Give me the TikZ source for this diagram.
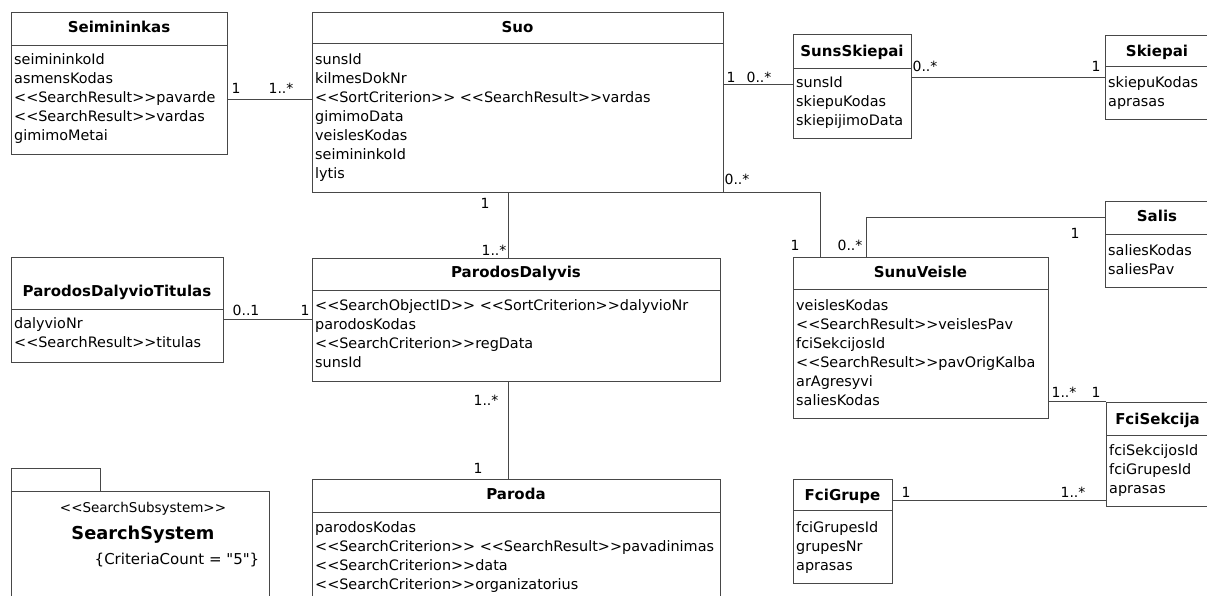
\documentclass[tikz,border=0pt]{standalone}
\usepackage{fontspec}
\setmainfont{DejaVu Sans}[Ligatures=TeXOff]
\usetikzlibrary{fit}

% stereotype brackets, kept as two separate < and > characters
\newcommand\ster[1]{<\kern0pt<#1>\kern0pt>}

\tikzset{
  ink/.style={draw=black!72, line width=1pt},
  classbox/.style={ink, inner sep=0pt, outer sep=0pt},
  classname/.style={anchor=base, inner sep=0pt, font=\fontsize{15}{18}\selectfont\bfseries},
  attr/.style={anchor=base west, inner sep=0pt, font=\fontsize{14.4}{19}\selectfont},
  mult/.style={anchor=base, inner sep=0pt, font=\fontsize{14}{17}\selectfont},
  assoc/.style={ink},
}

% class box: name, left, top, right, bottom, divider, title, title baseline
\newcommand\umlclass[8]{%
  \coordinate (#1-nw) at (#2,-#3);
  \coordinate (#1-se) at (#4,-#5);
  \node[classbox, fit=(#1-nw)(#1-se)] (#1) {};
  \draw[ink] (#1.west |- 0,-#6) -- (#1.east |- 0,-#6);
  \node[classname] (#1-name) at ({(#2+#4)/2},-#8) {#7};
}
% attribute rows: class name, left, first baseline, list
\newcommand\attrs[4]{%
  \foreach \t [count=\i from 0] in {#4}
    \node[attr] (#1-a\i) at (#2+3,{-#3-19*\i}) {\t};
}

\begin{document}
\begin{tikzpicture}[x=1pt,y=1pt]
\useasboundingbox (0,0) rectangle (1207,-596);
\clip (0,0) rectangle (1207,-596);
\fill[white] (0,0) rectangle (1207,-596);

% ---- classes ----
\umlclass{seim}{11}{13}{227}{155}{46}{Seimininkas}{33}
\attrs{seim}{11}{65}{seimininkoId, asmensKodas, \ster{SearchResult}pavarde, \ster{SearchResult}vardas, gimimoMetai}

\umlclass{suo}{312}{13}{723}{193}{44}{Suo}{33}
\attrs{suo}{312}{65}{sunsId, kilmesDokNr, \ster{SortCriterion} \ster{SearchResult}vardas, gimimoData, veislesKodas, seimininkoId, lytis}

\umlclass{sskiep}{793}{35}{911}{139}{69}{SunsSkiepai}{57}
\attrs{sskiep}{793}{88}{sunsId, skiepuKodas, skiepijimoData}

\umlclass{skiep}{1105}{36}{1209}{120}{67}{Skiepai}{57}
\attrs{skiep}{1105}{88}{skiepuKodas, aprasas}

\umlclass{pdt}{11}{257}{223}{362}{309}{ParodosDalyvioTitulas}{296}
\attrs{pdt}{11}{328}{dalyvioNr, \ster{SearchResult}titulas}

\umlclass{pd}{312}{258}{720}{381}{290}{ParodosDalyvis}{277}
\attrs{pd}{312}{310}{\ster{SearchObjectID} \ster{SortCriterion}dalyvioNr, parodosKodas, \ster{SearchCriterion}regData, sunsId}

\umlclass{veisle}{793}{257}{1048}{418}{289}{SunuVeisle}{277}
\attrs{veisle}{793}{310}{veislesKodas, \ster{SearchResult}veislesPav, fciSekcijosId, \ster{SearchResult}pavOrigKalba, arAgresyvi, saliesKodas}

\umlclass{salis}{1105}{202}{1209}{287}{234}{Salis}{222}
\attrs{salis}{1105}{255}{saliesKodas, saliesPav}

\umlclass{fcis}{1106}{402}{1209}{506}{435}{FciSekcija}{424}
\attrs{fcis}{1106}{455}{fciSekcijosId, fciGrupesId, aprasas}

\umlclass{fcig}{793}{479}{892}{583}{510}{FciGrupe}{500}
\attrs{fcig}{793}{532}{fciGrupesId, grupesNr, aprasas}

\umlclass{paroda}{312}{479}{720}{602}{512}{Paroda}{499}
\attrs{paroda}{312}{532}{parodosKodas, \ster{SearchCriterion} \ster{SearchResult}pavadinimas, \ster{SearchCriterion}data, \ster{SearchCriterion}organizatorius}

% ---- subsystem package ----
\node[classbox, fit={(11,-468) (100,-491)}] (pkgtab) {};
\node[classbox, fit={(11,-491) (269,-602)}] (pkg) {};
\node[anchor=base, inner sep=0pt, font=\fontsize{13.5}{16}\selectfont] (pkg-st) at (143,-512) {\ster{SearchSubsystem}};
\node[anchor=base, inner sep=0pt, font=\fontsize{17.8}{20}\selectfont\bfseries] (pkg-name) at (143,-539) {SearchSystem};
\node[anchor=base, inner sep=0pt, font=\fontsize{15}{18}\selectfont] (pkg-tag) at (177,-564) {\{CriteriaCount = "5"\}};

% ---- associations ----
\draw[assoc] (seim.east |- 0,-100) -- (suo.west |- 0,-100);
\node[mult] (m1a) at (236,-94) {1};
\node[mult] (m1b) at (281,-94) {1..*};

\draw[assoc] (suo.east |- 0,-85) -- (sskiep.west |- 0,-85);
\node[mult] (m2a) at (731,-83) {1};
\node[mult] (m2b) at (759,-83) {0..*};

\draw[assoc] (sskiep.east |- 0,-78) -- (skiep.west |- 0,-78);
\node[mult] (m3a) at (925,-72) {0..*};
\node[mult] (m3b) at (1096,-72) {1};

\draw[assoc] (suo.south east) -| (veisle.north -| 820,0);
\node[mult] (m4a) at (737,-185) {0..*};
\node[mult] (m4b) at (795,-250) {1};

\draw[assoc] (salis.west |- 0,-218) -| (veisle.north -| 866,0);
\node[mult] (m5a) at (1075,-238) {1};
\node[mult] (m5b) at (850,-250) {0..*};

\draw[assoc] (veisle.east |- 0,-401) -- (fcis.west |- 0,-401);
\node[mult] (m6a) at (1064,-397) {1..*};
\node[mult] (m6b) at (1096,-397) {1};

\draw[assoc] (fcig.east |- 0,-500) -- (fcis.west |- 0,-500);
\node[mult] (m7a) at (906,-497) {1};
\node[mult] (m7b) at (1073,-497) {1..*};

\draw[assoc] (suo.south -| 508,0) -- (pd.north -| 508,0);
\node[mult] (m8a) at (485,-208) {1};
\node[mult] (m8b) at (494,-255) {1..*};

\draw[assoc] (pd.south -| 508,0) -- (paroda.north -| 508,0);
\node[mult] (m9a) at (486,-405) {1..*};
\node[mult] (m9b) at (478,-473) {1};

\draw[assoc] (pdt.east |- 0,-319) -- (pd.west |- 0,-319);
\node[mult] (m10a) at (246,-315) {0..1};
\node[mult] (m10b) at (305,-315) {1};
\end{tikzpicture}
\end{document}
